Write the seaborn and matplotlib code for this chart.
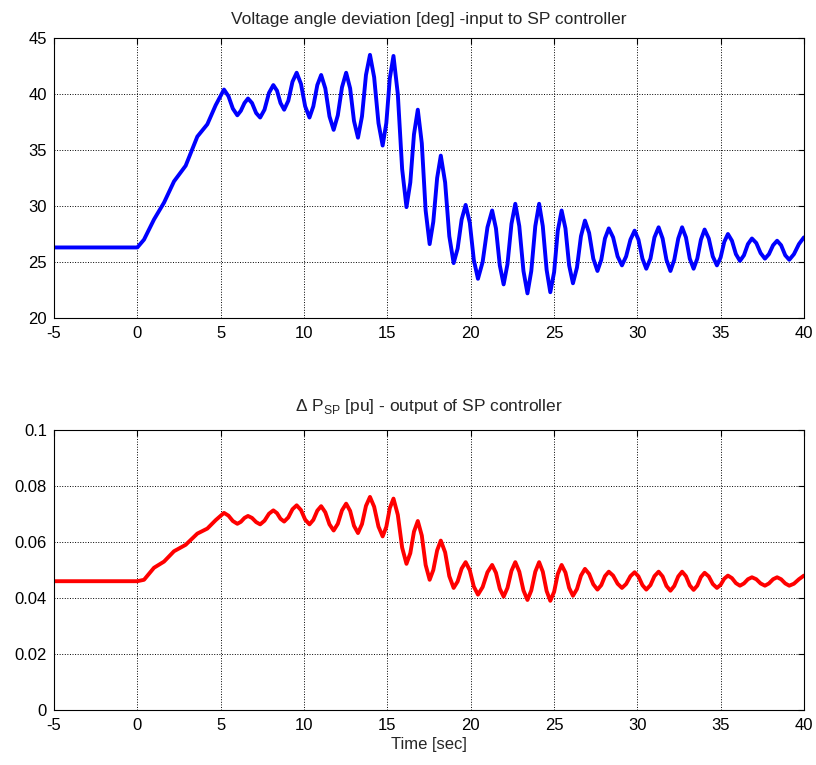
import numpy as np
import matplotlib
matplotlib.use("Agg")
import matplotlib.pyplot as plt
import seaborn as sns

# time axis [sec], shared by both signals
time_s = [
    -5, 0, 0.4, 1.0, 1.6, 2.2, 2.9, 3.6, 4.2, 4.7, 5.2,
    5.47, 5.73, 6.0, 6.21, 6.43, 6.64, 6.88, 7.13, 7.37,
    7.63, 7.90, 8.16, 8.38, 8.59, 8.81, 9.06, 9.31, 9.56,
    9.82, 10.07, 10.33, 10.56, 10.80, 11.03, 11.28, 11.53, 11.78,
    12.03, 12.28, 12.53, 12.77, 13.00, 13.24, 13.48, 13.72, 13.96,
    14.21, 14.47, 14.72, 14.94, 15.15, 15.37, 15.63, 15.89, 16.15,
    16.38, 16.60, 16.83, 17.07, 17.30, 17.54, 17.76, 17.99, 18.21,
    18.47, 18.72, 18.98, 19.22, 19.46, 19.70, 19.95, 20.19, 20.44,
    20.72, 21.01, 21.29, 21.52, 21.75, 21.98, 22.21, 22.45, 22.68,
    22.92, 23.17, 23.41, 23.64, 23.88, 24.11, 24.33, 24.56, 24.78,
    25.01, 25.23, 25.46, 25.69, 25.91, 26.14, 26.38, 26.62, 26.86,
    27.11, 27.36, 27.61, 27.84, 28.06, 28.29, 28.55, 28.82, 29.08,
    29.33, 29.59, 29.84, 30.07, 30.31, 30.54, 30.79, 31.03, 31.28,
    31.52, 31.75, 31.99, 32.22, 32.46, 32.69, 32.92, 33.15, 33.38,
    33.60, 33.82, 34.04, 34.29, 34.53, 34.78, 35.00, 35.22, 35.44,
    35.68, 35.92, 36.16, 36.40, 36.64, 36.88, 37.14, 37.40, 37.66,
    37.90, 38.15, 38.39, 38.63, 38.88, 39.12, 39.40, 39.70, 40.00,
]

# voltage angle deviation [deg]
angle_deg = [
    26.3, 26.3, 27.0, 28.8, 30.3, 32.2, 33.6, 36.2, 37.3, 39.0, 40.4,
    39.8, 38.7, 38.1, 38.5, 39.2, 39.6, 39.2, 38.3, 37.9,
    38.6, 40.1, 40.8, 40.3, 39.2, 38.6, 39.4, 41.1, 41.9,
    40.9, 38.9, 37.9, 38.9, 40.8, 41.7, 40.5, 38.0, 36.8,
    38.1, 40.6, 41.9, 40.5, 37.6, 36.1, 38.0, 41.7, 43.5,
    41.5, 37.4, 35.4, 37.4, 41.4, 43.4, 40.0, 33.3, 29.9,
    32.1, 36.4, 38.6, 35.6, 29.6, 26.6, 28.6, 32.5, 34.5,
    32.1, 27.3, 24.9, 26.2, 28.8, 30.1, 28.5, 25.2, 23.5,
    25.0, 28.1, 29.6, 28.0, 24.7, 23.0, 24.8, 28.4, 30.2,
    28.2, 24.2, 22.2, 24.2, 28.2, 30.2, 28.2, 24.3, 22.3,
    24.1, 27.8, 29.6, 28.0, 24.7, 23.1, 24.5, 27.3, 28.7,
    27.6, 25.3, 24.2, 25.2, 27.1, 28.0, 27.2, 25.5, 24.7,
    25.5, 27.0, 27.8, 27.0, 25.3, 24.4, 25.3, 27.2, 28.1,
    27.1, 25.2, 24.2, 25.2, 27.1, 28.1, 27.2, 25.3, 24.4,
    25.3, 27.0, 27.9, 27.1, 25.5, 24.7, 25.4, 26.8, 27.5,
    26.9, 25.7, 25.1, 25.6, 26.6, 27.1, 26.7, 25.8, 25.3,
    25.7, 26.5, 26.9, 26.5, 25.6, 25.2, 25.7, 26.6, 27.2,
]

# SP controller output [pu]
dp_sp = [
    0.0460, 0.0460, 0.0465, 0.0508, 0.0530, 0.0567, 0.0590, 0.0630, 0.0648, 0.0678, 0.0704,
    0.0694, 0.0675, 0.0665, 0.0672, 0.0686, 0.0693, 0.0686, 0.0671, 0.0663,
    0.0676, 0.0701, 0.0713, 0.0703, 0.0683, 0.0673, 0.0688, 0.0717, 0.0731,
    0.0714, 0.0680, 0.0663, 0.0679, 0.0712, 0.0728, 0.0706, 0.0663, 0.0641,
    0.0665, 0.0713, 0.0737, 0.0711, 0.0658, 0.0632, 0.0664, 0.0729, 0.0761,
    0.0726, 0.0655, 0.0620, 0.0654, 0.0721, 0.0755, 0.0697, 0.0580, 0.0522,
    0.0560, 0.0637, 0.0675, 0.0623, 0.0518, 0.0465, 0.0500, 0.0570, 0.0605,
    0.0563, 0.0478, 0.0436, 0.0459, 0.0505, 0.0528, 0.0499, 0.0441, 0.0412,
    0.0439, 0.0492, 0.0518, 0.0490, 0.0433, 0.0405, 0.0436, 0.0497, 0.0528,
    0.0494, 0.0427, 0.0393, 0.0427, 0.0494, 0.0528, 0.0494, 0.0425, 0.0390,
    0.0422, 0.0486, 0.0518, 0.0491, 0.0436, 0.0408, 0.0432, 0.0480, 0.0504,
    0.0486, 0.0449, 0.0430, 0.0446, 0.0478, 0.0494, 0.0480, 0.0451, 0.0436,
    0.0450, 0.0478, 0.0492, 0.0477, 0.0446, 0.0430, 0.0446, 0.0478, 0.0494,
    0.0477, 0.0443, 0.0426, 0.0443, 0.0477, 0.0494, 0.0478, 0.0445, 0.0429,
    0.0444, 0.0475, 0.0490, 0.0477, 0.0450, 0.0436, 0.0447, 0.0469, 0.0480,
    0.0471, 0.0453, 0.0444, 0.0452, 0.0467, 0.0474, 0.0467, 0.0452, 0.0444,
    0.0452, 0.0467, 0.0474, 0.0467, 0.0452, 0.0444, 0.0451, 0.0467, 0.0480,
]

x_ticks = [-5, 0, 5, 10, 15, 20, 25, 30, 35, 40]
top_yticks = [20, 25, 30, 35, 40, 45]
bot_yticks = [0, 0.02, 0.04, 0.06, 0.08, 0.1]
bot_ylabels = ["0", "0.02", "0.04", "0.06", "0.08", "0.1"]

sns.set_style("white")
plt.rcParams['font.family'] = ['Liberation Sans', 'DejaVu Sans']
plt.rcParams['mathtext.fontset'] = 'custom'
plt.rcParams['mathtext.rm'] = 'Liberation Sans'
plt.rcParams['axes.unicode_minus'] = False
plt.rcParams['font.size'] = 12

fig = plt.figure(figsize=(8.16, 7.65), dpi=100)
ax1 = fig.add_axes([0.0662, 0.5843, 0.919, 0.366])
ax2 = fig.add_axes([0.0662, 0.0719, 0.919, 0.366])


def style_axis(ax):
    ax.set_xlim(-5, 40)
    ax.set_xticks(x_ticks)
    ax.grid(True, color='black', linestyle=':', linewidth=0.7)
    ax.tick_params(axis='both', direction='in', top=True, right=True, length=4,
                   labelsize=12, colors='black')
    ax.tick_params(axis='x', pad=6)
    ax.tick_params(axis='y', pad=5)
    for sp in ax.spines.values():
        sp.set_color('black')
        sp.set_linewidth(0.8)
    ax.set_xlabel('')
    ax.set_ylabel('')


sns.lineplot(x=time_s, y=angle_deg, ax=ax1, color='#0000ff', linewidth=2.8)
style_axis(ax1)
ax1.set_ylim(20, 45)
ax1.set_yticks(top_yticks)
ax1.set_title('Voltage angle deviation [deg] -input to SP controller',
              fontsize=12.5, pad=10)

sns.lineplot(x=time_s, y=dp_sp, ax=ax2, color='#ff0000', linewidth=2.8)
style_axis(ax2)
ax2.set_ylim(0, 0.1)
ax2.set_yticks(bot_yticks)
ax2.set_yticklabels(bot_ylabels)
ax2.set_title(r'$\Delta$ P$_{\mathrm{SP}}$ [pu] - output of SP controller',
              fontsize=12.5, pad=14)
ax2.set_xlabel('Time [sec]', fontsize=12, labelpad=3)

fig.savefig('out.png', dpi=100)
plt.close(fig)
